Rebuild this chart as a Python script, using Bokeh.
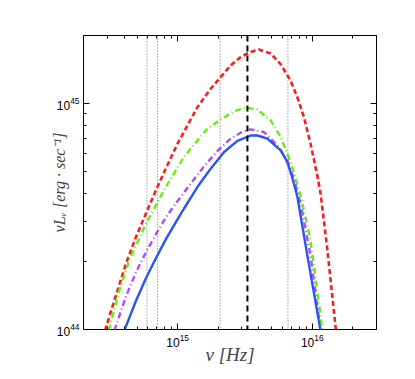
from bokeh.plotting import figure
from bokeh.models import LogAxis, Span, Range1d, CustomJSTickFormatter, FixedTicker, LogTickFormatter
from bokeh.embed import file_html
from bokeh.resources import INLINE

# ---- data (frequency in Hz, nu*L_nu in erg/s) ----
red_nu = [2.89e14, 3.49e14, 4.14e14, 4.91e14, 5.82e14, 6.90e14, 8.19e14, 1.0e15, 1.186e15,
          1.407e15, 1.765e15, 2.093e15, 2.482e15, 2.944e15, 3.49e15, 4.02e15, 4.91e15, 5.82e15,
          6.91e15, 7.74e15, 8.67e15, 9.71e15, 1.089e16, 1.152e16, 1.291e16, 1.50e16]
red_L = [0.99e44, 1.42e44, 1.959e44, 2.569e44, 3.26e44, 4.13e44, 5.17e44, 6.65e44, 8.02e44,
         9.66e44, 1.165e45, 1.311e45, 1.477e45, 1.608e45, 1.692e45, 1.733e45, 1.664e45, 1.495e45,
         1.26e45, 1.069e45, 8.72e44, 6.65e44, 4.82e44, 4.01e44, 2.29e44, 0.99e44]

green_nu = [3.083e14, 3.694e14, 4.38e14, 5.83e14, 6.90e14, 8.19e14, 9.71e14, 1.119e15, 1.327e15,
            1.668e15, 2.093e15, 2.626e15, 3.206e15, 3.913e15, 4.91e15, 5.82e15, 6.91e15, 8.19e15,
            9.71e15, 1.192e16]
green_L = [0.99e44, 1.492e44, 2.026e44, 2.944e44, 3.548e44, 4.276e44, 5.07e44, 5.82e44, 6.60e44,
           7.75e44, 8.50e44, 9.25e44, 9.60e44, 9.41e44, 8.44e44, 7.12e44, 5.50e44, 3.93e44,
           2.48e44, 0.99e44]

purple_nu = [3.39e14, 4.14e14, 4.91e14, 5.82e14, 6.90e14, 8.19e14, 9.71e14, 1.254e15, 1.574e15,
             1.978e15, 2.482e15, 3.03e15, 3.49e15, 4.38e15, 5.50e15, 6.53e15, 7.27e15, 8.19e15,
             9.71e15, 1.152e16]
purple_L = [0.99e44, 1.404e44, 1.793e44, 2.198e44, 2.64e44, 3.14e44, 3.62e44, 4.43e44, 5.28e44,
            6.17e44, 7.00e44, 7.50e44, 7.69e44, 7.48e44, 6.54e44, 5.61e44, 4.67e44, 3.62e44,
            2.13e44, 0.99e44]

blue_nu = [4.02e14, 4.91e14, 5.82e14, 6.90e14, 8.19e14, 9.71e14, 1.119e15, 1.406e15, 1.765e15,
           2.214e15, 2.783e15, 3.49e15, 3.913e15, 4.64e15, 5.82e15, 6.53e15, 7.11e15, 7.74e15,
           9.18e15, 1.152e16]
blue_L = [0.99e44, 1.34e44, 1.687e44, 2.068e44, 2.51e44, 2.984e44, 3.44e44, 4.28e44, 5.16e44,
          6.10e44, 6.84e44, 7.22e44, 7.22e44, 7.00e44, 6.21e44, 5.50e44, 4.70e44, 3.89e44,
          2.14e44, 0.99e44]

dotted_lines = [5.92e14, 7.11e14, 2.07e15, 6.60e15]
dashed_lines = [3.30e15]

x_range = (2e14, 3e16)
y_range = (1e44, 2e45)
x_major = [1e15, 1e16]
x_minor = [3e14, 4e14, 5e14, 6e14, 7e14, 8e14, 9e14,
           2e15, 3e15, 4e15, 5e15, 6e15, 7e15, 8e15, 9e15, 2e16, 3e16]
y_major = [1e44, 1e45]
y_minor = [2e44, 3e44, 4e44, 5e44, 6e44, 7e44, 8e44, 9e44, 2e45]

p = figure(width=414, height=378, x_axis_type="log", y_axis_type="log",
           x_range=Range1d(*x_range), y_range=Range1d(*y_range),
           output_backend="svg", toolbar_location=None,
           min_border_left=83, min_border_right=38, min_border_top=35, min_border_bottom=49)

p.xgrid.visible = False
p.ygrid.visible = False
p.outline_line_color = "black"
p.outline_line_width = 1
p.background_fill_color = "white"
p.border_fill_color = "white"

for loc in dotted_lines:
    p.add_layout(Span(location=loc, dimension="height", line_color="#666666",
                      line_width=1, line_dash="1 2"))
for loc in dashed_lines:
    p.add_layout(Span(location=loc, dimension="height", line_color="black",
                      line_width=2, line_dash="6 4"))

p.line(red_nu, red_L, line_color="#ff1a1a", line_width=2.6, line_dash="5 3")
p.line(green_nu, green_L, line_color="#66ee11", line_width=2.4, line_dash="6 3 1 3")
p.line(purple_nu, purple_L, line_color="#b048ff", line_width=2.4, line_dash="6 3 1 3")
p.line(blue_nu, blue_L, line_color="#2a55f0", line_width=2.4)

bottom = p.below[0]
left = p.left[0]
blank = CustomJSTickFormatter(code="return '';")
top = LogAxis(formatter=blank)
right = LogAxis(formatter=blank)
p.add_layout(top, "above")
p.add_layout(right, "right")

xt = FixedTicker(ticks=x_major, minor_ticks=x_minor)
yt = FixedTicker(ticks=y_major, minor_ticks=y_minor)
bottom.ticker = xt
top.ticker = xt
left.ticker = yt
right.ticker = yt
bottom.formatter = LogTickFormatter()
left.formatter = LogTickFormatter()

for ax in [bottom, left, top, right]:
    ax.axis_line_color = None
    ax.major_tick_in = 6
    ax.major_tick_out = 0
    ax.minor_tick_in = 3
    ax.minor_tick_out = 0
    ax.major_tick_line_color = "black"
    ax.minor_tick_line_color = "black"
    ax.major_label_text_font = "Liberation Sans"
    ax.major_label_text_font_size = "12px"
    ax.major_label_text_color = "black"

for ax in [top, right]:
    ax.major_label_standoff = 0

bottom.axis_label = "ν [Hz]"
bottom.axis_label_text_font = "Liberation Serif"
bottom.axis_label_text_font_style = "italic"
bottom.axis_label_text_font_size = "19px"
bottom.axis_label_standoff = -6
bottom.major_label_standoff = 4

left.axis_label = "νLᵥ [erg · sec⁻¹]"
left.axis_label_text_font = "Liberation Serif"
left.axis_label_text_font_style = "italic"
left.axis_label_text_font_size = "16px"
left.axis_label_standoff = -14
left.major_label_standoff = 4

open("out.html", "w").write(file_html(p, INLINE))
